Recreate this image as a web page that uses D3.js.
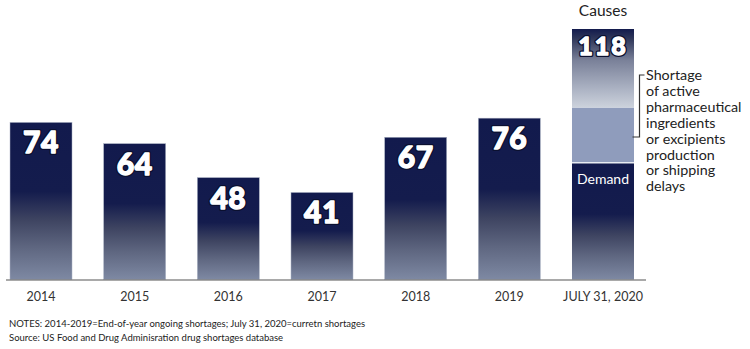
<!DOCTYPE html>
<html>
<head>
<meta charset="utf-8">
<script src="https://cdn.jsdelivr.net/npm/d3@7"></script>
<style>
  html, body { margin: 0; padding: 0; background: #fff; }
  svg { display: block; }
  text { font-family: Lato, "Open Sans", sans-serif; }
</style>
</head>
<body>
<svg id="chart" width="750" height="349"></svg>
<script>
// Drug shortages by year
const categories = ["2014", "2015", "2016", "2017", "2018", "2019", "JULY 31, 2020"];
const totals = [74, 64, 48, 41, 67, 76, 118];

// Causes of the July 31, 2020 total, stacked bottom to top
const causeNames = ["Demand", "Production or shipping delays", "Shortage of active pharmaceutical ingredients or excipients"];
const causeValues = [55, 26, 37];

const annotationLines = ["Shortage", "of active", "pharmaceutical", "ingredients", "or excipients", "production", "or shipping", "delays"];
const notes = [
  "NOTES: 2014-2019=End-of-year ongoing shortages; July 31, 2020=curretn shortages",
  "Source: US Food and Drug Adminisration drug shortages database"
];

const svg = d3.select("#chart");
const baseline = 279.5;

const x = d3.scaleBand().domain(categories).range([10, 634]).paddingInner(0.338).paddingOuter(0);
const y = d3.scaleLinear().domain([0, 118]).range([baseline, 29]);

// Gradients
const defs = svg.append("defs");
function grad(id, stops) {
  const g = defs.append("linearGradient").attr("id", id)
    .attr("x1", 0).attr("y1", 0).attr("x2", 0).attr("y2", 1);
  stops.forEach(([o, c]) => g.append("stop").attr("offset", o).attr("stop-color", c));
}
grad("barGrad", [[0, "#121a4d"], [0.44, "#141c4d"], [0.62, "#3e4461"], [0.8, "#5f6781"], [1, "#7e89a3"]]);
grad("topGrad", [[0, "#131b4d"], [0.12, "#2e3659"], [0.4, "#7a8199"], [0.75, "#aab1c2"], [1, "#ccd2dc"]]);

const years = categories.slice(0, 6);
const yearVals = totals.slice(0, 6);

// Yearly bars
svg.append("g").selectAll("rect").data(years).join("rect")
  .attr("x", d => x(d))
  .attr("y", (d, i) => y(yearVals[i]))
  .attr("width", x.bandwidth())
  .attr("height", (d, i) => baseline - y(yearVals[i]))
  .attr("fill", "url(#barGrad)")
  .attr("stroke", "#aeb5c6").attr("stroke-width", 0.5);

// Stacked causes bar
const last = categories[6];
let acc = 0;
const segs = causeValues.map((v, i) => { const s = { name: causeNames[i], y0: acc, y1: acc + v, i }; acc += v; return s; });
const segFill = ["url(#barGrad)", "#8f9cbc", "url(#topGrad)"];
svg.append("g").selectAll("rect").data(segs).join("rect")
  .attr("x", x(last))
  .attr("y", d => y(d.y1))
  .attr("width", x.bandwidth())
  .attr("height", d => y(d.y0) - y(d.y1))
  .attr("fill", d => segFill[d.i]);
// separator between demand and the rest
svg.append("line")
  .attr("x1", x(last)).attr("x2", x(last) + x.bandwidth())
  .attr("y1", y(causeValues[0])).attr("y2", y(causeValues[0]))
  .attr("stroke", "#e8ecf2").attr("stroke-width", 1.5);

// Value labels: dark outline underneath, heavy white digits on top
const labelG = svg.append("g");
function valueLabels(stroke, sw) {
  labelG.append("g").selectAll("text").data(categories).join("text")
    .attr("x", d => x(d) + x.bandwidth() / 2)
    .attr("y", (d, i) => y(totals[i]) + (i === 6 ? 26 : 31))
    .attr("text-anchor", "middle")
    .attr("font-size", (d, i) => i === 6 ? 25 : 30)
    .attr("font-weight", 900)
    .attr("letter-spacing", (d, i) => i === 6 ? 2 : 0.5)
    .attr("fill", "#fff")
    .attr("stroke", stroke).attr("stroke-width", sw)
    .attr("stroke-linejoin", "round")
    .text((d, i) => totals[i]);
}
valueLabels("#0b1030", 4);
valueLabels("#fff", 1.3);

// Demand label
svg.append("text")
  .attr("x", x(last) + x.bandwidth() / 2)
  .attr("y", y(causeValues[0]) + 21)
  .attr("text-anchor", "middle")
  .attr("font-size", 14)
  .attr("fill", "#fff")
  .text(causeNames[0]);

// Title above stacked bar
svg.append("text")
  .attr("x", x(last) + x.bandwidth() / 2)
  .attr("y", 16)
  .attr("text-anchor", "middle")
  .attr("font-size", 15.5)
  .attr("fill", "#222")
  .text("Causes");

// Bracket and annotation
const bx = x(last) + x.bandwidth() + 5.5;
const bTop = 75, bBot = 137;
svg.append("path")
  .attr("d", `M${bx + 5},${bTop}H${bx}V${bBot}H${bx - 7}`)
  .attr("fill", "none").attr("stroke", "#333").attr("stroke-width", 1.2);
svg.append("g").selectAll("text").data(annotationLines).join("text")
  .attr("x", bx + 6.5)
  .attr("y", (d, i) => 80 + i * 15.9)
  .attr("font-size", 14.3)
  .attr("fill", "#222")
  .text(d => d);

// X axis
const axis = svg.append("g").attr("transform", `translate(0,${baseline})`)
  .call(d3.axisBottom(x).tickSize(0).tickPadding(13));
axis.select(".domain").remove();
axis.selectAll("text")
  .attr("font-family", "Lato, sans-serif")
  .attr("font-size", 12.5)
  .attr("fill", "#333");
svg.append("line")
  .attr("x1", 6).attr("x2", 646)
  .attr("y1", baseline + 0.5).attr("y2", baseline + 0.5)
  .attr("stroke", "#555").attr("stroke-width", 1.2);

// Notes
svg.append("g").selectAll("text").data(notes).join("text")
  .attr("x", 9)
  .attr("y", (d, i) => 327 + i * 14)
  .attr("font-size", 9.5)
  .attr("fill", "#222")
  .text(d => d);
</script>
</body>
</html>
